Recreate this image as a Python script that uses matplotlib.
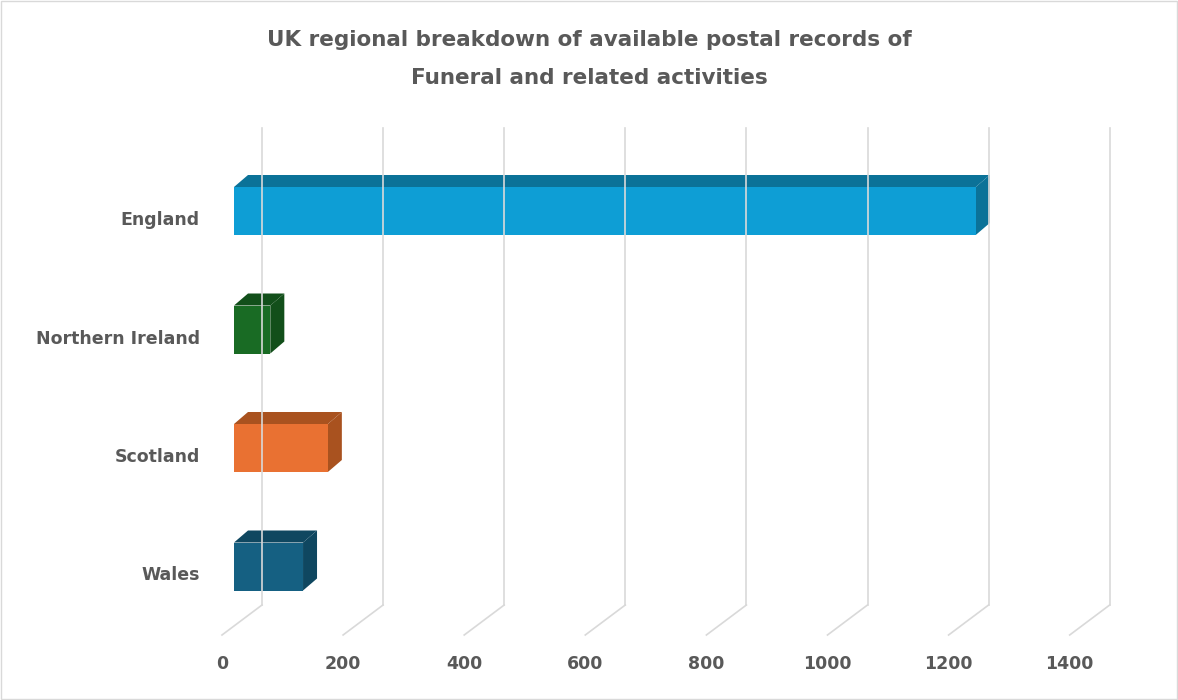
import matplotlib
matplotlib.use("Agg")
import matplotlib.pyplot as plt
from matplotlib.patches import Polygon, Rectangle

categories = ["England", "Northern Ireland", "Scotland", "Wales"]
values = [1225, 60, 155, 114]
ticks = [0, 200, 400, 600, 800, 1000, 1200, 1400]
front_colors = ["#0E9ED5", "#196B24", "#E97132", "#156082"]
dark_colors = ["#0B7298", "#124F1A", "#A9521F", "#0F4760"]

W, H = 1178, 700
PX = 0.6055          # pixels per value unit
X0 = 222             # pixel of value 0 on front plane
fig = plt.figure(figsize=(W/100, H/100), dpi=100)
ax = fig.add_axes([0, 0, 1, 1])
ax.set_xlim(-X0/PX, (W-X0)/PX)
ax.set_ylim(H, 0)
ax.axis("off")

def d(px):  # pixel offset -> value units
    return px/PX

grid = "#D9D9D9"
for t in ticks:
    ax.plot([t, t+d(40)], [635, 605], color=grid, lw=1.2)
    ax.plot([t+d(40), t+d(40)], [605, 128], color=grid, lw=1.2)
    ax.text(t, 664, str(t), ha="center", va="center", fontsize=12.5,
            fontweight="bold", color="#595959")

for i, (cat, v) in enumerate(zip(categories, values)):
    yc = 211 + 118.5*i
    x0 = d(12); x1 = v + d(12)
    top, bot = yc-24, yc+24
    dx, dy = d(14), -12
    ax.add_patch(Polygon([(x0, top), (x1, top), (x1+dx, top+dy), (x0+dx, top+dy)],
                         closed=True, fc=dark_colors[i], ec="none"))
    ax.add_patch(Polygon([(x1, top), (x1+dx, top+dy), (x1+dx, bot+dy), (x1, bot)],
                         closed=True, fc=dark_colors[i], ec="none"))
    ax.add_patch(Rectangle((x0, top), x1-x0, bot-top, fc=front_colors[i], ec="none"))
    ax.text(-d(22), yc+9, cat, ha="right", va="center", fontsize=12.5,
            fontweight="bold", color="#595959")

fig.text(589/W, 1-40/H, "UK regional breakdown of available postal records of",
         ha="center", va="center", fontsize=15.5, fontweight="bold", color="#595959")
fig.text(589/W, 1-78/H, "Funeral and related activities",
         ha="center", va="center", fontsize=15.5, fontweight="bold", color="#595959")
fig.add_artist(Rectangle((0.001, 0.001), 0.998, 0.997, transform=fig.transFigure,
                         fill=False, ec="#D9D9D9", lw=1))
fig.savefig("out.png", dpi=100)
